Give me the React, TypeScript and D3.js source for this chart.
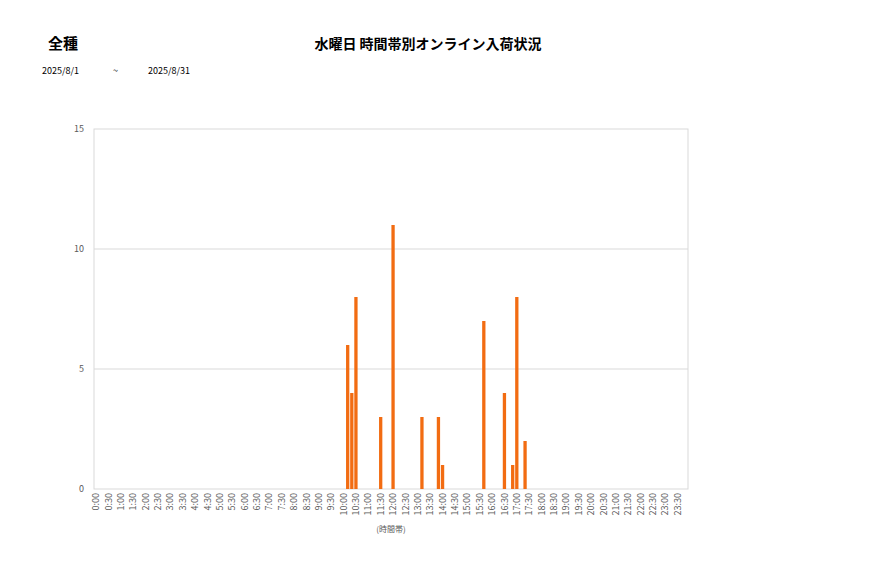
import * as d3 from "d3";
import React from "react";

// 10-minute slots 0:00 .. 23:50
const slots: string[] = d3.range(144).map((i) => `${Math.floor(i / 6)}:${String((i % 6) * 10).padStart(2, "0")}`);
const arrivalSlots = ["10:10", "10:20", "10:30", "11:30", "12:00", "13:10", "13:50", "14:00", "15:40", "16:30", "16:50", "17:00", "17:20"];
const arrivalCounts = [6, 4, 8, 3, 11, 3, 3, 1, 7, 4, 1, 8, 2];
const yTicks = [0, 5, 10, 15];
const xTickLabels = slots.filter((_, i) => i % 3 === 0 && i <= 141);

const title = "水曜日 時間帯別オンライン入荷状況";
const category = "全種";
const dateFrom = "2025/8/1";
const dateTo = "2025/8/31";
const xLabel = "(時間帯)";

const font = "'Noto Sans CJK JP', 'Noto Sans', sans-serif";

export default function App() {
  const width = 877;
  const height = 578;
  const margin = { left: 94, right: 189, top: 129, bottom: 89 };
  const innerWidth = width - margin.left - margin.right;
  const innerHeight = height - margin.top - margin.bottom;

  const values = slots.map((s) => {
    const i = arrivalSlots.indexOf(s);
    return i >= 0 ? arrivalCounts[i] : 0;
  });

  const xScale = d3.scaleBand<string>()
    .domain(slots)
    .range([0, innerWidth])
    .paddingInner(0.2)
    .paddingOuter(0.1);

  const yScale = d3.scaleLinear()
    .domain([0, 15])
    .range([innerHeight, 0]);

  const bw = xScale.bandwidth();

  return (
    <svg width={width} height={height} style={{ position: "absolute", left: 0, top: 0, background: "#fff" }} fontFamily={font}>
      <text x={48} y={49} fontSize={15} fontWeight="bold" fill="#000">{category}</text>
      <text x={428} y={49} fontSize={14} fontWeight="bold" fill="#000" textAnchor="middle">{title}</text>
      <text x={42} y={74} fontSize={9} fill="#000">{dateFrom}</text>
      <text x={113} y={74} fontSize={9} fill="#000">~</text>
      <text x={148} y={74} fontSize={9} fill="#000">{dateTo}</text>

      <g transform={`translate(${margin.left},${margin.top})`}>
        {yTicks.map((t) => (
          <g key={t} transform={`translate(0,${yScale(t)})`}>
            {t > 0 && t < 15 && <line x1={0} x2={innerWidth} stroke="#d9d9d9" strokeWidth={1} />}
            <text x={-10} dy="0.35em" fontSize={9} fill="#595959" textAnchor="end">{t}</text>
          </g>
        ))}
        <rect x={0} y={0} width={innerWidth} height={innerHeight} fill="none" stroke="#d9d9d9" strokeWidth={1} />

        {slots.map((s, i) => values[i] > 0 && (
          <rect
            key={s}
            x={xScale(s)}
            y={yScale(values[i])}
            width={bw}
            height={innerHeight - yScale(values[i])}
            fill="#f26c12"
          />
        ))}

        {xTickLabels.map((s) => (
          <text
            key={s}
            transform={`translate(${(xScale(s) as number) + bw / 2},${innerHeight + 4}) rotate(-90)`}
            textAnchor="end"
            dy="0.35em"
            fontSize={9}
            fill="#595959"
          >
            {s}
          </text>
        ))}

        <text x={innerWidth / 2} y={innerHeight + 43} fontSize={8} fill="#595959" textAnchor="middle">{xLabel}</text>
      </g>
    </svg>
  );
}
